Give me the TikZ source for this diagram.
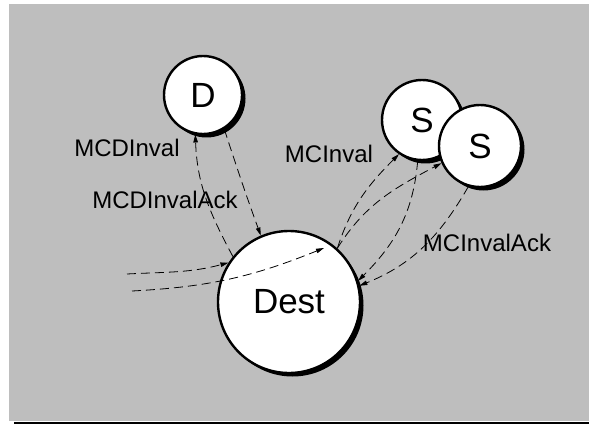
\documentclass[tikz,border=0pt]{standalone}
\usepackage{fontspec}
\setmainfont{Liberation Sans}
\usetikzlibrary{arrows.meta,shadows}

\definecolor{panel}{RGB}{190,190,190}

\tikzset{
  state/.style={circle, draw=black, line width=2.4pt, fill=white, inner sep=0pt,
    font=\fontsize{35}{40}\selectfont,
    drop shadow={shadow xshift=3.5pt, shadow yshift=-3.5pt, fill=black, opacity=1}},
  msg/.style={dash pattern=on 9pt off 5pt, line width=0.8pt,
    -{Triangle[length=8pt,width=4.5pt]}},
  lbl/.style={font=\fontsize{24}{28}\selectfont, inner sep=0pt}
}

\begin{document}
\begin{tikzpicture}[x=1pt,y=-1pt]
  \useasboundingbox (0,0) rectangle (589,425);
  % grey panel with its rule underneath
  \fill[panel] (9,4) rectangle (589,421);
  \draw[line width=2pt] (14,423) -- (589,423);

  % states
  \node[state, minimum size=78pt]  (D)    at (203,95)  {D};
  \node[state, minimum size=80pt]  (S1)   at (422,120) {S};
  \node[state, minimum size=82pt]  (S2)   at (480,146) {S};
  \node[state, minimum size=142pt] (Dest) at (289,302) {Dest};

  % free ends of the incoming requests
  \coordinate (inA) at (127,274);
  \coordinate (inB) at (132,291);
  \coordinate (inBtip) at (324,248);

  % incoming requests
  \draw[msg] (inA) to[out=3,in=-165] (Dest.147);
  \draw[msg] (inB) to[out=3,in=-158] (inBtip);

  % directory invalidation and its ack
  \draw[msg] (Dest.141) to[out=118,in=-88] (D.-101);
  \draw[msg] (D.-58) to[out=-72,in=110] (Dest.113);

  % invalidations to the sharers
  \draw[msg] (Dest.48) to[out=72,in=-135] (S1.-124);
  \draw[msg] (Dest.48) to[out=58,in=-152] (S2.-156);

  % acks from the sharers
  \draw[msg] (S1.-96) to[out=-95,in=45] (Dest.17);
  \draw[msg] (S2.-106) to[out=-120,in=22] (Dest.13);

  % labels
  \node[lbl] (lMCDInval)    at (127,148) {MCDInval};
  \node[lbl] (lMCDInvalAck) at (165,200) {MCDInvalAck};
  \node[lbl] (lMCInval)     at (329,154) {MCInval};
  \node[lbl] (lMCInvalAck)  at (487,243) {MCInvalAck};
\end{tikzpicture}
\end{document}
